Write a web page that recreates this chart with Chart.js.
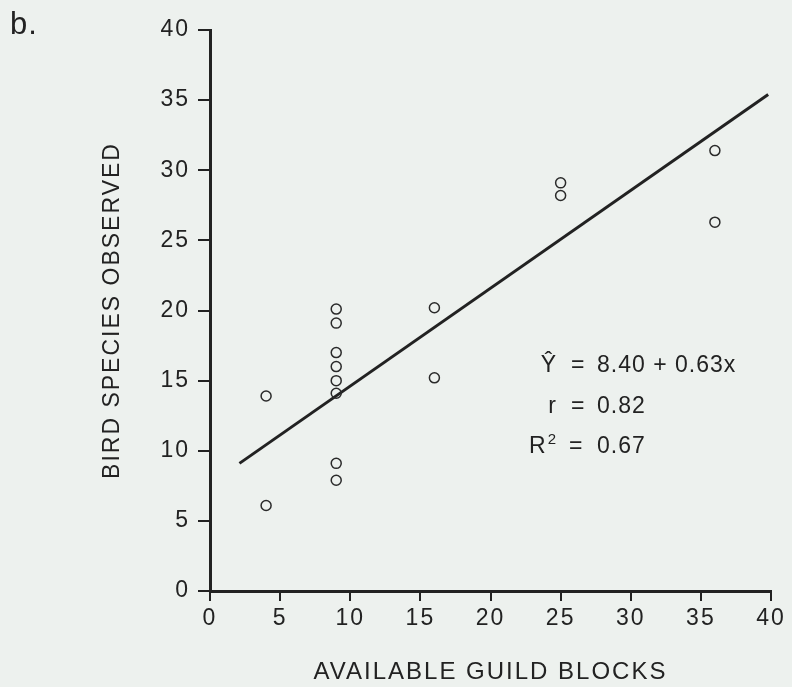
<!DOCTYPE html>
<html>
<head>
<meta charset="utf-8">
<script src="https://cdn.jsdelivr.net/npm/chart.js@4.4.1/dist/chart.umd.min.js"></script>
<style>
  html, body { margin: 0; padding: 0; background: #edf1ee; }
  #wrap { width: 792px; height: 687px; }
</style>
</head>
<body>
<div id="wrap"><canvas id="c" width="792" height="687"></canvas></div>
<script>
// ---- data ----
const guildBlocks = [4, 4, 9, 9, 9, 9, 9, 9, 9, 9, 16, 16, 25, 25, 36, 36];
const speciesObserved = [13.9, 6.1, 20.1, 19.1, 17.0, 16.0, 15.0, 14.1, 9.1, 7.9, 20.2, 15.2, 29.1, 28.2, 31.4, 26.3];
const fitLineX = [2.1, 39.8];
const fitLineY = [9.1, 35.4];
const xTickValues = [0, 5, 10, 15, 20, 25, 30, 35, 40];
const yTickValues = [0, 5, 10, 15, 20, 25, 30, 35, 40];
const xTitle = 'AVAILABLE GUILD BLOCKS';
const yTitle = 'BIRD SPECIES OBSERVED';
const panelLabel = 'b.';
const eqLines = [
  { left: 'Ŷ', right: '8.40 + 0.63x' },
  { left: 'r', right: '0.82' },
  { left: 'R', sup: '2', right: '0.67' }
];

const INK = '#222222';
const FONT = "'Liberation Sans', Arial, Helvetica, sans-serif";

const pointData = guildBlocks.map((x, i) => ({ x: x, y: speciesObserved[i] }));
const lineData = fitLineX.map((x, i) => ({ x: x, y: fitLineY[i] }));

const spacingPlugin = {
  id: 'spacing',
  beforeDraw(chart) {
    const ctx = chart.ctx;
    ctx.fillStyle = '#edf1ee';
    ctx.fillRect(0, 0, chart.width, chart.height);
    ctx.letterSpacing = '2px';
  }
};

const annotPlugin = {
  id: 'annot',
  afterDraw(chart) {
    const ctx = chart.ctx;
    ctx.save();
    ctx.fillStyle = INK;
    ctx.letterSpacing = '1px';
    ctx.textBaseline = 'alphabetic';
    // panel label
    ctx.font = '31px ' + FONT;
    ctx.textAlign = 'left';
    ctx.fillText(panelLabel, 10, 34);
    // equation block
    const eqX = 557, numX = 597;
    const baseYs = [372, 413, 453];
    eqLines.forEach((ln, i) => {
      const by = baseYs[i];
      ctx.font = '23px ' + FONT;
      if (ln.sup) {
        ctx.textAlign = 'right';
        ctx.font = '15px ' + FONT;
        ctx.fillText(ln.sup, eqX, by - 9);
        const w = ctx.measureText(ln.sup).width;
        ctx.font = '23px ' + FONT;
        ctx.fillText(ln.left, eqX - w - 1, by);
      } else {
        ctx.textAlign = 'right';
        ctx.fillText(ln.left, eqX, by);
      }
      ctx.textAlign = 'left';
      ctx.fillText('=', i === 2 ? 569 : 571, by);
      ctx.fillText(ln.right, numX, by);
    });
    ctx.restore();
  }
};

new Chart(document.getElementById('c'), {
  type: 'scatter',
  data: {
    datasets: [
      {
        label: 'observed',
        data: pointData,
        showLine: false,
        pointStyle: 'circle',
        pointRadius: 5,
        pointHoverRadius: 5,
        pointBorderWidth: 1.5,
        pointBorderColor: '#2a2a2a',
        pointBackgroundColor: 'rgba(0,0,0,0)',
        order: 1
      },
      {
        label: 'fit',
        data: lineData,
        showLine: true,
        borderColor: INK,
        borderWidth: 3,
        pointRadius: 0,
        pointHoverRadius: 0,
        fill: false,
        order: 2
      }
    ]
  },
  options: {
    responsive: false,
    animation: false,
    events: [],
    layout: { padding: { left: 0, top: 30, right: 21, bottom: 0 } },
    plugins: {
      legend: { display: false },
      tooltip: { enabled: false },
      title: { display: false }
    },
    scales: {
      x: {
        type: 'linear',
        min: 0, max: 40,
        afterBuildTicks(scale) { scale.ticks = xTickValues.map(v => ({ value: v })); },
        afterFit(scale) { scale.height = 96; },
        grid: { drawOnChartArea: false, drawTicks: true, tickLength: 10, color: INK, lineWidth: 2 },
        border: { display: true, color: INK, width: 3 },
        ticks: { color: INK, padding: 4, maxRotation: 0, autoSkip: false, font: { family: FONT, size: 23 } },
        title: { display: true, text: xTitle, color: INK, padding: { top: 0, bottom: 0 }, font: { family: FONT, size: 24 } }
      },
      y: {
        type: 'linear',
        min: 0, max: 40,
        afterBuildTicks(scale) { scale.ticks = yTickValues.map(v => ({ value: v })); },
        afterFit(scale) { scale.width = 210; },
        grid: { drawOnChartArea: false, drawTicks: true, tickLength: 12, color: INK, lineWidth: 2 },
        border: { display: true, color: INK, width: 3 },
        ticks: { color: INK, padding: 8, autoSkip: false, font: { family: FONT, size: 23 } },
        title: { display: true, text: yTitle, color: INK, padding: { top: 99, bottom: 0 }, font: { family: FONT, size: 23 } }
      }
    }
  },
  plugins: [spacingPlugin, annotPlugin]
});
</script>
</body>
</html>
